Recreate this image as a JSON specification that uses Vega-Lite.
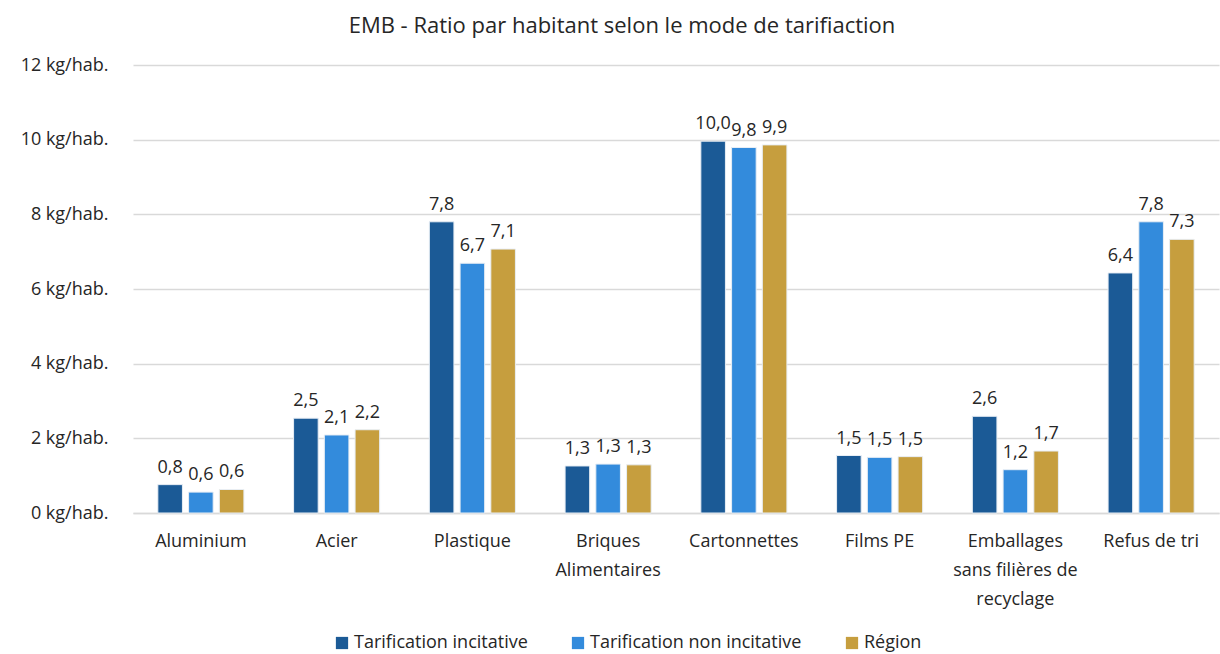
{
  "$schema": "https://vega.github.io/schema/vega-lite/v6.json",
  "autosize": "none",
  "width": 1086,
  "height": 448,
  "padding": {"left": 133, "top": 65, "right": 1, "bottom": 141},
  "background": "white",
  "title": {
    "text": "EMB - Ratio par habitant selon le mode de tarifiaction",
    "anchor": "middle",
    "dx": -54,
    "offset": 18,
    "fontSize": 22,
    "fontWeight": "normal",
    "font": "Open Sans",
    "color": "#262626"
  },
  "config": {
    "locale": {"number": {"decimal": ",", "thousands": " ", "grouping": [3], "currency": ["", " €"]}},
    "view": {"stroke": null},
    "font": "Open Sans"
  },
  "data": {
    "values": [
      {"cat": "Aluminium", "serie": "Tarification incitative", "v": 0.76},
      {"cat": "Aluminium", "serie": "Tarification non incitative", "v": 0.56},
      {"cat": "Aluminium", "serie": "Région", "v": 0.63},
      {"cat": "Acier", "serie": "Tarification incitative", "v": 2.54},
      {"cat": "Acier", "serie": "Tarification non incitative", "v": 2.09},
      {"cat": "Acier", "serie": "Région", "v": 2.23},
      {"cat": "Plastique", "serie": "Tarification incitative", "v": 7.8},
      {"cat": "Plastique", "serie": "Tarification non incitative", "v": 6.69},
      {"cat": "Plastique", "serie": "Région", "v": 7.07},
      {"cat": "Briques Alimentaires", "serie": "Tarification incitative", "v": 1.26},
      {"cat": "Briques Alimentaires", "serie": "Tarification non incitative", "v": 1.31},
      {"cat": "Briques Alimentaires", "serie": "Région", "v": 1.29},
      {"cat": "Cartonnettes", "serie": "Tarification incitative", "v": 9.96},
      {"cat": "Cartonnettes", "serie": "Tarification non incitative", "v": 9.79},
      {"cat": "Cartonnettes", "serie": "Région", "v": 9.86},
      {"cat": "Films PE", "serie": "Tarification incitative", "v": 1.54},
      {"cat": "Films PE", "serie": "Tarification non incitative", "v": 1.49},
      {"cat": "Films PE", "serie": "Région", "v": 1.51},
      {"cat": "Emballages sans filières de recyclage", "serie": "Tarification incitative", "v": 2.59},
      {"cat": "Emballages sans filières de recyclage", "serie": "Tarification non incitative", "v": 1.16},
      {"cat": "Emballages sans filières de recyclage", "serie": "Région", "v": 1.66},
      {"cat": "Refus de tri", "serie": "Tarification incitative", "v": 6.43},
      {"cat": "Refus de tri", "serie": "Tarification non incitative", "v": 7.8},
      {"cat": "Refus de tri", "serie": "Région", "v": 7.33}
    ]
  },
  "encoding": {
    "x": {
      "field": "cat",
      "type": "nominal",
      "sort": null,
      "title": null,
      "scale": {"paddingInner": 0.366, "paddingOuter": 0.183},
      "axis": {
        "labelAngle": 0,
        "labelFontSize": 18,
        "labelColor": "#262626",
        "labelPadding": 19,
        "labelLineHeight": 29,
        "labelLimit": 300,
        "ticks": false,
        "domainColor": "#D9D9D9",
        "domainWidth": 1.5,
        "labelExpr": "datum.value == 'Briques Alimentaires' ? ['Briques', 'Alimentaires'] : datum.value == 'Emballages sans filières de recyclage' ? ['Emballages', 'sans filières de', 'recyclage'] : datum.value"
      }
    },
    "xOffset": {
      "field": "serie",
      "type": "nominal",
      "sort": ["Tarification incitative", "Tarification non incitative", "Région"],
      "scale": {"paddingInner": 0.2, "paddingOuter": 0}
    },
    "y": {
      "field": "v",
      "type": "quantitative",
      "title": null,
      "scale": {"domain": [0, 12]},
      "axis": {
        "values": [0, 2, 4, 6, 8, 10, 12],
        "labelExpr": "datum.value + ' kg/hab.'",
        "labelFontSize": 18,
        "labelColor": "#262626",
        "labelPadding": 25,
        "ticks": false,
        "domain": false,
        "gridColor": "#D9D9D9",
        "gridWidth": 1.5
      }
    }
  },
  "layer": [
    {
      "mark": {"type": "bar", "stroke": "#E8EEF5", "strokeWidth": 1},
      "encoding": {
        "color": {
          "field": "serie",
          "type": "nominal",
          "sort": ["Tarification incitative", "Tarification non incitative", "Région"],
          "scale": {
            "domain": ["Tarification incitative", "Tarification non incitative", "Région"],
            "range": ["#1B5A96", "#338BDC", "#C69E3E"]
          },
          "legend": {
            "title": null,
            "orient": "none",
            "direction": "horizontal",
            "legendX": 200,
            "legendY": 569,
            "symbolType": "square",
            "symbolSize": 150,
            "symbolStrokeWidth": 0,
            "labelFontSize": 18,
            "labelLimit": 400,
            "labelColor": "#262626",
            "columnPadding": 41,
            "labelOffset": 3
          }
        }
      }
    },
    {
      "mark": {"type": "text", "baseline": "alphabetic", "dy": -12, "fontSize": 18, "color": "#262626"},
      "encoding": {
        "text": {"field": "v", "type": "quantitative", "format": ".1f"}
      }
    }
  ]
}
